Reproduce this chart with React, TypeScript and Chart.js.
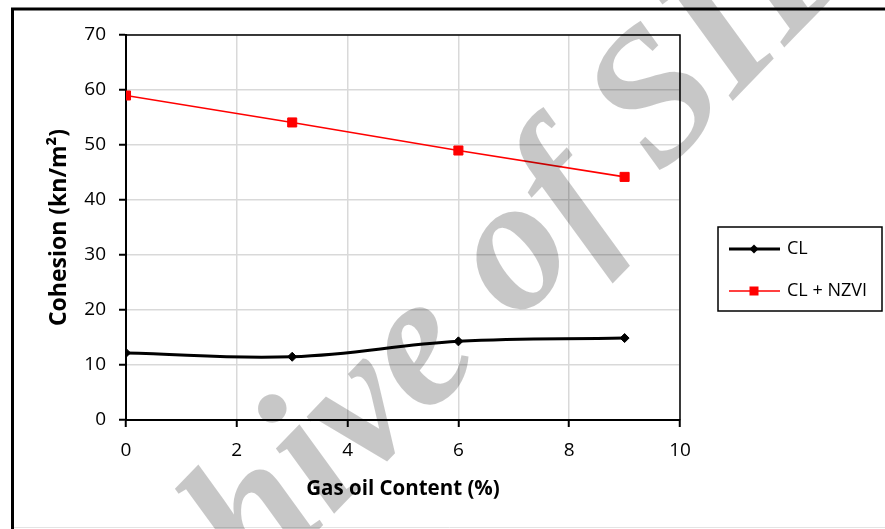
import React, { useEffect, useRef } from "react";
import { Chart, registerables } from "chart.js";

Chart.register(...registerables);

// Gas oil content (%) and measured cohesion (kN/m²)
const gasOil = [0, 3, 6, 9];
const clValues = [12.2, 11.5, 14.3, 14.9];
const nzviValues = [59.0, 54.1, 49.0, 44.2];

const seriesNames = ["CL", "CL + NZVI"];
const xTitle = "Gas oil Content (%)";
const yTitle = "Cohesion (kn/m²)";
const watermarkText = "Archive of SID";

const FONT = "'Open Sans', 'Liberation Sans', sans-serif";

const W = 885;
const H = 529;

// Page frame and background
const framePlugin = {
  id: "frame",
  beforeDraw(chart: any) {
    const ctx = chart.ctx;
    ctx.save();
    ctx.fillStyle = "#ffffff";
    ctx.fillRect(0, 0, W, H);
    ctx.strokeStyle = "#000000";
    ctx.lineWidth = 3;
    ctx.beginPath();
    ctx.moveTo(12.5, H);
    ctx.lineTo(12.5, 9);
    ctx.lineTo(W, 9);
    ctx.stroke();
    ctx.strokeStyle = "#e4e4e4";
    ctx.lineWidth = 1;
    ctx.beginPath();
    ctx.moveTo(14, 527.5);
    ctx.lineTo(W, 527.5);
    ctx.stroke();
    ctx.restore();
  },
};

// Thin outline around the plot area (top and right edges)
const plotBoxPlugin = {
  id: "plotBox",
  beforeDatasetsDraw(chart: any) {
    const { ctx, chartArea } = chart;
    ctx.save();
    ctx.strokeStyle = "#000000";
    ctx.lineWidth = 1.5;
    ctx.strokeRect(chartArea.left, chartArea.top, chartArea.right - chartArea.left, chartArea.bottom - chartArea.top);
    ctx.restore();
  },
};

// Boxed legend to the right of the plot
const legendPlugin = {
  id: "boxLegend",
  afterDraw(chart: any) {
    const ctx = chart.ctx;
    const box = { x: 718, y: 227, w: 164, h: 84 };
    ctx.save();
    ctx.strokeStyle = "#000000";
    ctx.lineWidth = 1.5;
    ctx.strokeRect(box.x, box.y, box.w, box.h);
    const rows = [
      { y: 249, color: "#000000", width: 3, marker: "diamond" },
      { y: 291, color: "#ff0000", width: 1.5, marker: "square" },
    ];
    rows.forEach((r, i) => {
      ctx.strokeStyle = r.color;
      ctx.fillStyle = r.color;
      ctx.lineWidth = r.width;
      ctx.beginPath();
      ctx.moveTo(729, r.y);
      ctx.lineTo(780, r.y);
      ctx.stroke();
      const cx = 754;
      if (r.marker === "diamond") {
        ctx.beginPath();
        ctx.moveTo(cx, r.y - 4.5);
        ctx.lineTo(cx + 4.5, r.y);
        ctx.lineTo(cx, r.y + 4.5);
        ctx.lineTo(cx - 4.5, r.y);
        ctx.closePath();
        ctx.fill();
      } else {
        ctx.fillRect(cx - 4.5, r.y - 4.5, 9, 9);
      }
      ctx.fillStyle = "#000000";
      ctx.font = `18px ${FONT}`;
      ctx.textAlign = "left";
      ctx.textBaseline = "middle";
      ctx.fillText(seriesNames[i], 787, r.y);
    });
    ctx.restore();
  },
};

// Diagonal grey watermark across the page
const watermarkPlugin = {
  id: "watermark",
  afterDraw(chart: any) {
    const ctx = chart.ctx;
    ctx.save();
    ctx.translate(470, 373);
    ctx.rotate((-46 * Math.PI) / 180);
    ctx.font = "italic bold 190px 'Liberation Serif', 'DejaVu Serif', serif";
    ctx.fillStyle = "rgba(0,0,0,0.22)";
    ctx.textAlign = "center";
    ctx.textBaseline = "alphabetic";
    ctx.fillText(watermarkText, 0, 0);
    ctx.restore();
  },
};

export default function App() {
  const canvasRef = useRef<HTMLCanvasElement | null>(null);

  useEffect(() => {
    document.body.style.margin = "0";
    const canvas = canvasRef.current;
    if (!canvas) return;

    const chart = new Chart(canvas, {
      type: "line",
      data: {
        datasets: [
          {
            label: seriesNames[0],
            data: gasOil.map((x, i) => ({ x, y: clValues[i] })),
            borderColor: "#000000",
            backgroundColor: "#000000",
            borderWidth: 3,
            tension: 0.4,
            pointStyle: "rectRot",
            pointRadius: 4.5,
            pointBorderWidth: 1,
          },
          {
            label: seriesNames[1],
            data: gasOil.map((x, i) => ({ x, y: nzviValues[i] })),
            borderColor: "#ff0000",
            backgroundColor: "#ff0000",
            borderWidth: 1.6,
            tension: 0,
            pointStyle: "rect",
            pointRadius: 6.4,
            pointBorderWidth: 1,
          },
        ],
      },
      options: {
        responsive: false,
        animation: false,
        events: [],
        layout: { padding: { left: 26, right: 205, top: 35, bottom: 19 } },
        plugins: {
          legend: { display: false },
          tooltip: { enabled: false },
        },
        scales: {
          x: {
            type: "linear",
            min: 0,
            max: 10,
            ticks: {
              stepSize: 2,
              color: "#000000",
              font: { family: FONT, size: 19 },
              padding: 12,
            },
            grid: {
              color: "#d9d9d9",
              lineWidth: 1.5,
              tickColor: "#000000",
              tickWidth: 2,
              tickLength: 7,
            },
            border: { color: "#000000", width: 2 },
            title: {
              display: true,
              text: xTitle,
              color: "#000000",
              font: { family: FONT, size: 20.5, weight: "bold" },
              padding: { top: 0, bottom: 9 },
            },
            afterFit(scale: any) {
              scale.height = 90;
            },
          },
          y: {
            min: 0,
            max: 70,
            ticks: {
              stepSize: 10,
              color: "#000000",
              font: { family: FONT, size: 19 },
              padding: 13,
            },
            grid: {
              color: "#d9d9d9",
              lineWidth: 1.5,
              tickColor: "#000000",
              tickWidth: 2,
              tickLength: 7,
            },
            border: { color: "#000000", width: 2 },
            title: {
              display: true,
              text: yTitle,
              color: "#000000",
              font: { family: FONT, size: 23, weight: "bold" },
              padding: { top: 20, bottom: 0 },
            },
            afterFit(scale: any) {
              scale.width = 100;
            },
          },
        },
      },
      plugins: [framePlugin, plotBoxPlugin, legendPlugin, watermarkPlugin],
    });

    return () => chart.destroy();
  }, []);

  return (
    <div style={{ position: "absolute", left: 0, top: 0, width: W, height: H }}>
      <canvas ref={canvasRef} width={W} height={H} style={{ display: "block" }} />
    </div>
  );
}
